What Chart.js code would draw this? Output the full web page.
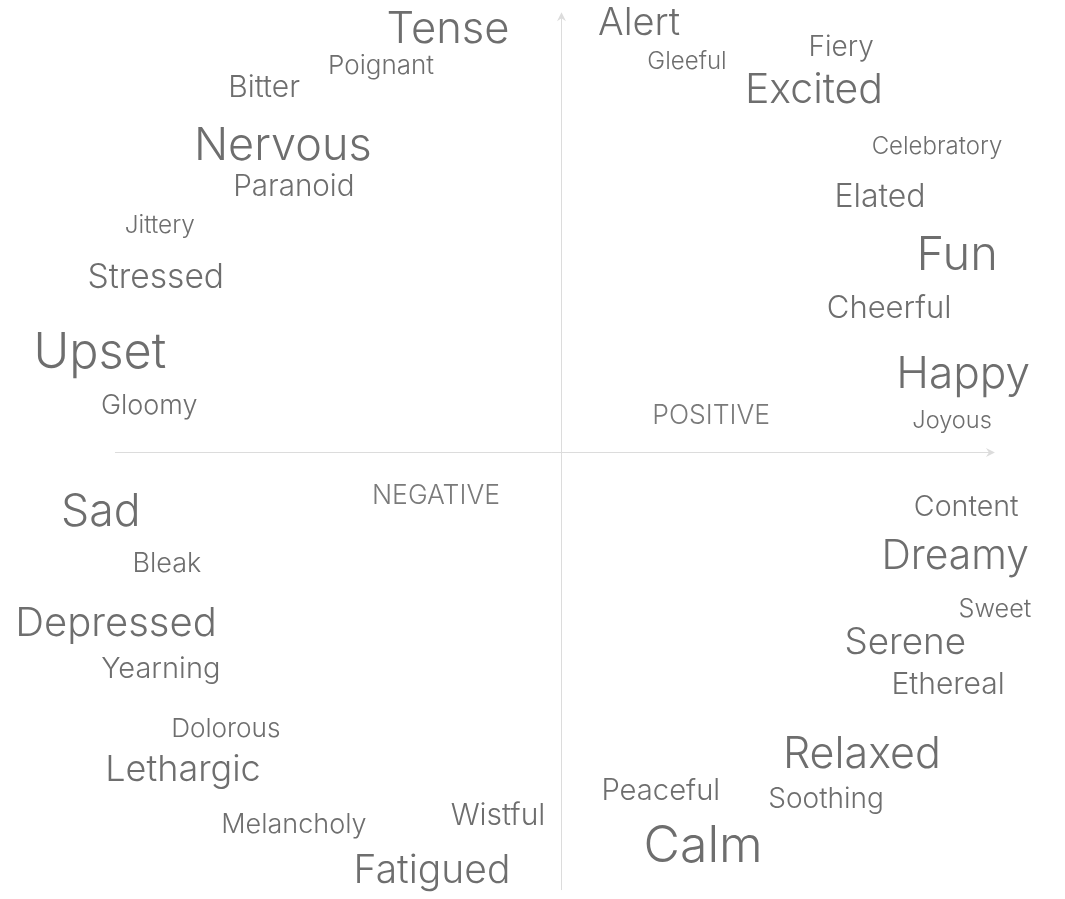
<!DOCTYPE html>
<html>
<head>
<meta charset="utf-8">
<script src="https://cdn.jsdelivr.net/npm/chart.js@4/dist/chart.umd.min.js"></script>
<style>
  html, body { margin: 0; padding: 0; background: #ffffff; }
  #wrap { width: 1065px; height: 899px; position: relative; }
</style>
</head>
<body>
<div id="wrap"><canvas id="c"></canvas></div>
<script>
// Mood words placed by valence (x: negative → positive) and arousal (y: low → high)
const words = ["Tense","Alert","Gleeful","Fiery","Poignant","Bitter","Excited","Nervous","Celebratory","Paranoid",
  "Elated","Jittery","Fun","Stressed","Cheerful","Upset","Happy","Gloomy","Joyous","Content",
  "Sad","Dreamy","Bleak","Sweet","Depressed","Serene","Yearning","Ethereal","Dolorous","Relaxed",
  "Lethargic","Peaceful","Soothing","Wistful","Melancholy","Calm","Fatigued"];
const valence = [-22.4,15.5,25.0,55.6,-35.7,-58.9,50.2,-55.2,74.6,-53.0,
  63.3,-79.6,78.6,-80.4,65.1,-91.5,79.8,-81.7,77.6,80.4,
  -91.3,78.2,-78.2,86.1,-88.3,68.3,-79.4,76.8,-66.5,59.7,
  -75.0,19.8,52.6,-12.5,-53.0,28.2,-25.6];
const arousal = [95.1,96.4,87.7,90.8,86.6,81.9,81.4,68.9,68.7,59.7,
  57.5,51.0,44.5,39.4,32.4,22.8,17.9,10.7,7.4,-12.1,
  -13.0,-22.8,-24.6,-34.9,-38.0,-42.1,-48.1,-51.7,-61.7,-67.1,
  -70.7,-75.4,-77.4,-81.0,-83.0,-87.7,-93.3];
const prominence = [8.4,7,3.5,4.5,4,5,7.75,8.75,3.5,4.9,
  5.5,3.6,9.25,5.9,5.25,9.65,8.55,4.25,3.4,4.65,
  8.65,7.7,4.25,3.8,7.5,6.7,4.75,5,4.05,8.25,
  6.5,4.8,4.5,5,4.25,10,7.25];
// Axis captions
const axisLabels = ["POSITIVE","NEGATIVE"];
const axisLabelX = [29.8,-24.8];
const axisLabelY = [8.5,-9.4];

const FONT = "Inter, 'Helvetica Neue', Roboto, sans-serif";
const TEXT_COLOR = "#6e6e6e";
const AXIS_COLOR = "#dcdcdc";
const sizeOf = w => 10 + 4 * w;

const wordPlugin = {
  id: 'words',
  beforeDatasetsDraw(chart) {
    const ctx = chart.ctx;
    const xs = chart.scales.x, ys = chart.scales.y;
    const x0 = xs.getPixelForValue(0), y0 = ys.getPixelForValue(0);
    const xl = xs.getPixelForValue(-88.5), xr = xs.getPixelForValue(86.1);
    const yb = ys.getPixelForValue(-98), yt = ys.getPixelForValue(98.4);
    ctx.save();
    ctx.strokeStyle = AXIS_COLOR;
    ctx.fillStyle = AXIS_COLOR;
    ctx.lineWidth = 1;
    ctx.beginPath();
    ctx.moveTo(xl, Math.round(y0) + 0.5);
    ctx.lineTo(xr - 6, Math.round(y0) + 0.5);
    ctx.moveTo(Math.round(x0) + 0.5, yb);
    ctx.lineTo(Math.round(x0) + 0.5, yt + 6);
    ctx.stroke();
    const ay = Math.round(y0) + 0.5, ax = Math.round(x0) + 0.5;
    ctx.beginPath();
    ctx.moveTo(xr, ay); ctx.lineTo(xr - 9, ay - 4.5); ctx.lineTo(xr - 6, ay); ctx.lineTo(xr - 9, ay + 4.5); ctx.closePath();
    ctx.fill();
    ctx.beginPath();
    ctx.moveTo(ax, yt); ctx.lineTo(ax - 4.5, yt + 9); ctx.lineTo(ax, yt + 6); ctx.lineTo(ax + 4.5, yt + 9); ctx.closePath();
    ctx.fill();
    ctx.restore();
  },
  afterDatasetsDraw(chart) {
    const ctx = chart.ctx;
    const xs = chart.scales.x, ys = chart.scales.y;
    ctx.save();
    ctx.textAlign = 'center';
    ctx.textBaseline = 'alphabetic';
    const meta = chart.getDatasetMeta(0);
    meta.data.forEach((pt, i) => {
      const s = sizeOf(prominence[i]);
      ctx.font = `300 ${s}px ${FONT}`;
      ctx.fillStyle = TEXT_COLOR;
      ctx.fillText(words[i], pt.x, pt.y + 0.364 * s);
    });
    axisLabels.forEach((t, i) => {
      const s = 26.5;
      ctx.font = `300 ${s}px ${FONT}`;
      ctx.fillStyle = "#7a7a7a";
      ctx.fillText(t, xs.getPixelForValue(axisLabelX[i]), ys.getPixelForValue(axisLabelY[i]) + 0.364 * s);
    });
    ctx.restore();
  }
};

new Chart(document.getElementById('c'), {
  type: 'scatter',
  data: {
    datasets: [{
      data: words.map((w, i) => ({ x: valence[i], y: arousal[i] })),
      pointRadius: 0,
      pointHoverRadius: 0
    }]
  },
  options: {
    responsive: true,
    maintainAspectRatio: false,
    animation: false,
    layout: { padding: { left: 57, right: 0, top: 5, bottom: 0 } },
    plugins: { legend: { display: false }, tooltip: { enabled: false } },
    scales: {
      x: { type: 'linear', min: -100, max: 100, display: false },
      y: { type: 'linear', min: -100, max: 100, display: false }
    }
  },
  plugins: [wordPlugin]
});
</script>
</body>
</html>
